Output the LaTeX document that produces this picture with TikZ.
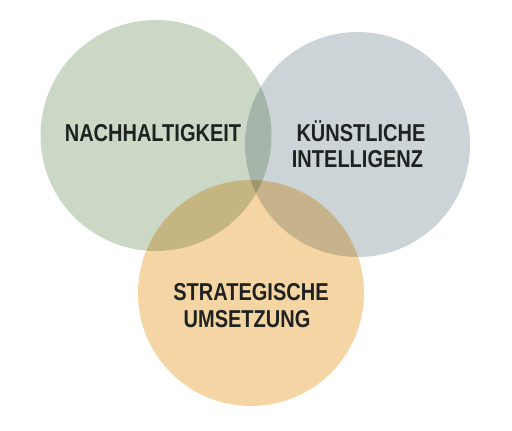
\documentclass[tikz,border=0pt]{standalone}
\usepackage{fontspec}
\setmainfont{Liberation Sans}
\definecolor{cgreen}{RGB}{203,216,197}
\definecolor{cblue}{RGB}{205,212,216}
\definecolor{corange}{RGB}{245,213,164}
\definecolor{cgb}{RGB}{166,181,170}
\definecolor{cgo}{RGB}{197,181,128}
\definecolor{cbo}{RGB}{198,178,139}
\definecolor{cgbo}{RGB}{160,151,110}
\definecolor{ctext}{RGB}{30,34,32}
\newcommand{\lblt}[1]{\scalebox{0.82}[1]{#1}}
\begin{document}
\begin{tikzpicture}[x=1pt,y=-1pt,
  lbl/.style={font=\bfseries\fontsize{24.4}{26}\selectfont, text=ctext, anchor=base, inner sep=0pt}]
\useasboundingbox (0,0) rectangle (512,431);
\fill[white] (0,0) rectangle (512,431);
\coordinate (g) at (156,135.5);
\coordinate (b) at (357.5,144.5);
\coordinate (o) at (251,293);
\def\rg{115.5}
\def\rb{112.5}
\def\ro{113}
\fill[cgreen] (g) circle[radius=\rg];
\fill[cblue] (b) circle[radius=\rb];
\fill[corange] (o) circle[radius=\ro];
\begin{scope}
  \clip (g) circle[radius=\rg];
  \fill[cgb] (b) circle[radius=\rb];
  \fill[cgo] (o) circle[radius=\ro];
  \clip (b) circle[radius=\rb];
  \fill[cgbo] (o) circle[radius=\ro];
\end{scope}
\begin{scope}
  \clip (b) circle[radius=\rb];
  \clip (o) circle[radius=\ro];
  \fill[cbo] (b) circle[radius=\rb];
  \clip (g) circle[radius=\rg];
  \fill[cgbo] (o) circle[radius=\ro];
\end{scope}
\node[lbl] (n1) at (153,141) {\lblt{NACHHALTIGKEIT}};
\node[lbl] (k1) at (361,141) {\lblt{KÜNSTLICHE}};
\node[lbl] (k2) at (357.5,167) {\lblt{INTELLIGENZ}};
\node[lbl] (s1) at (251,300) {\lblt{STRATEGISCHE}};
\node[lbl] (s2) at (247,327) {\lblt{UMSETZUNG}};
\end{tikzpicture}
\end{document}
